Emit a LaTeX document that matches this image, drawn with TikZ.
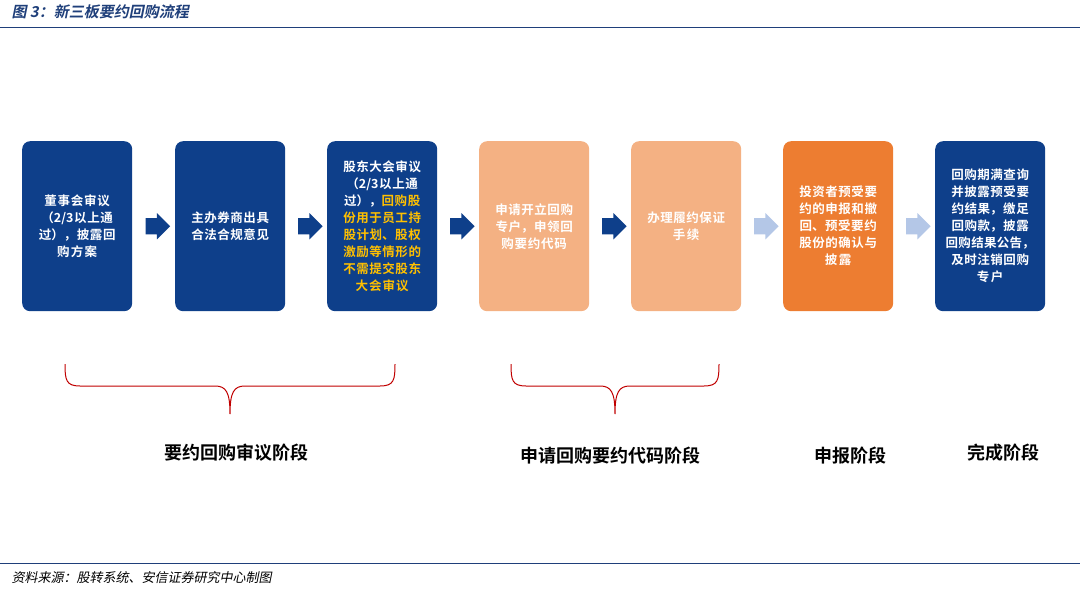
\documentclass[tikz,border=0pt]{standalone}
\usepackage{fontspec}
\usetikzlibrary{shapes.arrows,calc}
\newfontfamily\cjk{Noto Sans CJK SC}
\newfontfamily\cjkb{Noto Sans CJK SC Bold}
\newfontfamily\cjksl[FakeSlant=0.2]{Noto Sans CJK SC Bold}
\newfontfamily\cjkslr[FakeSlant=0.2]{Noto Sans CJK SC}
\XeTeXlinebreaklocale "zh"
\XeTeXlinebreakskip=0pt plus 1pt
\definecolor{dblue}{HTML}{0E3F8A}
\definecolor{lorange}{HTML}{F4B183}
\definecolor{orng}{HTML}{ED7D31}
\definecolor{ylw}{HTML}{FFC000}
\definecolor{larrow}{HTML}{B4C7E7}
\definecolor{rline}{HTML}{C00000}
\definecolor{tblue}{HTML}{1F3F7A}
\begin{document}
\begin{tikzpicture}[x=1pt,y=-1pt,
  stepbox/.style={rounded corners=8pt,minimum width=110pt,minimum height=170pt,anchor=north west,text width=104pt,align=center,font=\cjkb\fontsize{12.5}{17}\selectfont,text=white,inner sep=0pt},
  blk/.style={single arrow,single arrow head extend=5pt,minimum height=24pt,inner sep=8pt,anchor=center},
  brace/.style={draw=rline,line width=1pt},
  stage/.style={font=\cjkb\fontsize{18}{20}\selectfont,anchor=center}]
\useasboundingbox (0,0) rectangle (1080,600);
\node[anchor=west,text=tblue,font=\cjksl\fontsize{15}{15}\selectfont] (title) at (8,12) {图 3：新三板要约回购流程};
\draw[tblue,line width=1pt] (0,27) -- (1080,27);
\node[stepbox,fill=dblue] (b1) at (22,141) {董事会审议\\（2/3以上通\\过），披露回\\购方案};
\node[stepbox,fill=dblue] (b2) at (175,141) {主办券商出具\\合法合规意见};
\node[stepbox,fill=dblue] (b3) at (327,141) {股东大会审议\\（2/3以上通\\过），\textcolor{ylw}{回购股}\\\textcolor{ylw}{份用于员工持}\\\textcolor{ylw}{股计划、股权}\\\textcolor{ylw}{激励等情形的}\\\textcolor{ylw}{不需提交股东}\\\textcolor{ylw}{大会审议}};
\node[stepbox,fill=lorange] (b4) at (479,141) {申请开立回购\\专户，申领回\\购要约代码};
\node[stepbox,fill=lorange] (b5) at (631,141) {办理履约保证\\手续};
\node[stepbox,fill=orng] (b6) at (783,141) {投资者预受要\\约的申报和撤\\回、预受要约\\股份的确认与\\披露};
\node[stepbox,fill=dblue] (b7) at (935,141) {回购期满查询\\并披露预受要\\约结果，缴足\\回购款，披露\\回购结果公告，\\及时注销回购\\专户};
\node[blk,fill=dblue] (a1) at ($(b1.east)!0.5!(b2.west)$) {};
\node[blk,fill=dblue] (a2) at ($(b2.east)!0.5!(b3.west)$) {};
\node[blk,fill=dblue] (a3) at ($(b3.east)!0.5!(b4.west)$) {};
\node[blk,fill=dblue] (a4) at ($(b4.east)!0.5!(b5.west)$) {};
\node[blk,fill=larrow] (a5) at ($(b5.east)!0.5!(b6.west)$) {};
\node[blk,fill=larrow] (a6) at ($(b6.east)!0.5!(b7.west)$) {};
\draw[brace] (65,364) .. controls (65,380) and (66,386) .. (80,386) -- (215,386) .. controls (226,386) and (230,392) .. (230,414) .. controls (230,392) and (234,386) .. (245,386) -- (380,386) .. controls (394,386) and (395,380) .. (395,364);
\draw[brace] (511,364) .. controls (511,380) and (512,386) .. (526,386) -- (600,386) .. controls (611,386) and (615,392) .. (615,414) .. controls (615,392) and (619,386) .. (630,386) -- (704,386) .. controls (718,386) and (719,380) .. (719,364);
\node[stage] (s1) at (236,453) {要约回购审议阶段};
\node[stage] (s2) at (610,456) {申请回购要约代码阶段};
\node[stage] (s3) at (850,456) {申报阶段};
\node[stage] (s4) at (1003,453) {完成阶段};
\draw[tblue,line width=1pt] (0,563) -- (1080,563);
\node[anchor=west,font=\cjkslr\fontsize{13}{13}\selectfont] (src) at (8,578) {资料来源：股转系统、安信证券研究中心制图};
\end{tikzpicture}
\end{document}
